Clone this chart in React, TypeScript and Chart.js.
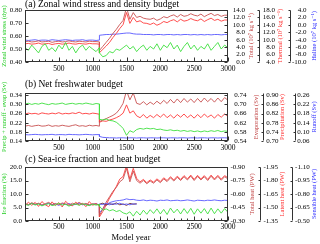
import React, { useEffect, useRef } from "react";
import { Chart, registerables } from "chart.js";

Chart.register(...registerables);

const FAMILY = "'Liberation Serif', 'Times New Roman', 'DejaVu Serif', serif";

// ---------- shared x values ----------
const yearsPre = [0, 50, 100, 150, 200, 250, 300, 350, 400, 450, 500, 550, 600, 650, 700, 750, 800, 850, 900, 950, 1000, 1050, 1100];
const yearsPost = [1100, 1150, 1200, 1250, 1300, 1350, 1400, 1450, 1500, 1550, 1600, 1650, 1700, 1750, 1800, 1850, 1900, 1950, 2000, 2050, 2100, 2150, 2200, 2250, 2300, 2350, 2400, 2450, 2500, 2550, 2600, 2650, 2700, 2750, 2800, 2850, 2900, 2950, 3000];
const ctrlYears = [1100, 1150, 1200, 1250, 1300, 1350, 1400, 1450, 1500, 1550, 1600, 1650];
const xTickValues = [500, 1000, 1500, 2000, 2500, 3000];
const xMinorStep = 100;

// ---------- panel (a) ----------
const aLeftTicks = [0.4, 0.5, 0.6, 0.7, 0.8];
const aTotalTicks = [0, 2, 4, 6, 8, 10, 12, 14];
const aThermalTicks = [4, 6, 8, 10, 12, 14, 16, 18];
const aHalineTicks = [-10, -8, -6, -4, -2, 0, 2, 4];
const windPre = [0.51, 0.49, 0.53, 0.50, 0.47, 0.52, 0.54, 0.49, 0.51, 0.48, 0.53, 0.50, 0.55, 0.49, 0.52, 0.47, 0.51, 0.53, 0.49, 0.52, 0.50, 0.48, 0.51];
const windPost = [0.47, 0.44, 0.45, 0.48, 0.47, 0.50, 0.49, 0.51, 0.53, 0.50, 0.52, 0.48, 0.51, 0.53, 0.49, 0.52, 0.50, 0.54, 0.49, 0.53, 0.51, 0.55, 0.50, 0.53, 0.48, 0.52, 0.55, 0.50, 0.53, 0.49, 0.52, 0.50, 0.54, 0.49, 0.52, 0.55, 0.50, 0.53, 0.51];
const densTotalPre = [5.5, 5.6, 5.4, 5.5, 5.7, 5.4, 5.5, 5.6, 5.3, 5.5, 5.6, 5.4, 5.5, 5.7, 5.5, 5.4, 5.6, 5.5, 5.4, 5.6, 5.5, 5.5, 5.4];
const densTotalPost = [3.1, 4.2, 5.3, 6.4, 7.7, 8.8, 10.1, 11.2, 14.7, 11.5, 13.3, 12.0, 12.3, 11.8, 11.6, 11.5, 11.8, 11.2, 11.6, 12.2, 11.9, 12.4, 12.7, 12.1, 12.8, 12.3, 12.5, 13.0, 12.6, 12.4, 12.9, 12.2, 12.7, 13.1, 12.5, 12.8, 12.3, 12.6, 12.6];
const thermalPre = [8.9, 9.0, 8.8, 8.9, 9.1, 8.8, 8.9, 9.0, 8.7, 8.9, 9.0, 8.8, 8.9, 9.1, 8.9, 8.8, 9.0, 8.9, 8.8, 9.0, 8.9, 8.9, 8.8];
const thermalPost = [6.5, 7.4, 8.3, 9.3, 10.6, 11.7, 13.0, 14.1, 17.3, 14.4, 16.0, 14.8, 15.1, 14.5, 14.4, 14.1, 14.5, 13.9, 14.3, 14.9, 14.6, 15.1, 15.4, 14.8, 15.5, 15.0, 15.2, 15.7, 15.3, 15.1, 15.6, 14.9, 15.4, 15.8, 15.2, 15.5, 15.0, 15.3, 15.3];
const halinePre = [-4.1, -4.2, -4.1, -4.0, -4.2, -4.1, -4.1, -4.2, -4.0, -4.1, -4.2, -4.1, -4.0, -4.1, -4.2, -4.1, -4.1, -4.0, -4.2, -4.1, -4.1, -4.2, -4.1];
const halinePost = [-2.8, -2.7, -2.6, -2.6, -2.5, -2.5, -2.4, -2.3, -2.2, -2.2, -2.4, -2.5, -2.5, -2.6, -2.6, -2.6, -2.7, -2.6, -2.6, -2.7, -2.6, -2.6, -2.7, -2.6, -2.7, -2.6, -2.6, -2.7, -2.6, -2.7, -2.6, -2.7, -2.6, -2.7, -2.6, -2.6, -2.7, -2.6, -2.6];

// ---------- panel (b) ----------
const bLeftTicks = [0.14, 0.18, 0.22, 0.26, 0.30, 0.34];
const bEvapTicks = [0.54, 0.58, 0.62, 0.66, 0.70, 0.74];
const bPrecipTicks = [0.70, 0.74, 0.78, 0.82, 0.86, 0.90];
const bRunoffTicks = [0.06, 0.10, 0.14, 0.18, 0.22, 0.26];
const pfwPre = [0.302, 0.305, 0.300, 0.304, 0.301, 0.306, 0.302, 0.299, 0.304, 0.301, 0.303, 0.306, 0.300, 0.303, 0.305, 0.301, 0.304, 0.302, 0.306, 0.303, 0.300, 0.304, 0.302];
const pfwPost = [0.235, 0.232, 0.236, 0.230, 0.228, 0.222, 0.210, 0.195, 0.165, 0.185, 0.178, 0.190, 0.195, 0.192, 0.196, 0.193, 0.195, 0.190, 0.192, 0.188, 0.186, 0.189, 0.185, 0.187, 0.183, 0.186, 0.182, 0.185, 0.181, 0.184, 0.180, 0.184, 0.181, 0.185, 0.182, 0.186, 0.181, 0.184, 0.182];
const evapPre = [0.605, 0.608, 0.604, 0.607, 0.609, 0.605, 0.606, 0.610, 0.604, 0.607, 0.605, 0.609, 0.606, 0.604, 0.608, 0.611, 0.605, 0.607, 0.604, 0.609, 0.606, 0.608, 0.605];
const evapPost = [0.625, 0.632, 0.638, 0.645, 0.652, 0.662, 0.680, 0.705, 0.760, 0.720, 0.750, 0.705, 0.700, 0.712, 0.698, 0.710, 0.700, 0.714, 0.702, 0.718, 0.704, 0.722, 0.706, 0.724, 0.708, 0.726, 0.710, 0.724, 0.708, 0.726, 0.710, 0.728, 0.712, 0.726, 0.710, 0.728, 0.712, 0.730, 0.718];
const precipPre = [0.818, 0.822, 0.819, 0.821, 0.817, 0.823, 0.820, 0.818, 0.822, 0.819, 0.824, 0.818, 0.821, 0.819, 0.823, 0.820, 0.826, 0.819, 0.821, 0.818, 0.822, 0.820, 0.817];
const precipPost = [0.782, 0.788, 0.786, 0.792, 0.796, 0.802, 0.810, 0.822, 0.858, 0.822, 0.832, 0.810, 0.802, 0.816, 0.800, 0.812, 0.802, 0.816, 0.804, 0.818, 0.802, 0.814, 0.800, 0.816, 0.804, 0.818, 0.802, 0.814, 0.800, 0.816, 0.802, 0.818, 0.804, 0.814, 0.800, 0.816, 0.804, 0.818, 0.808];
const runoffPre = [0.088, 0.087, 0.088, 0.089, 0.088, 0.087, 0.088, 0.088, 0.089, 0.087, 0.088, 0.088, 0.087, 0.089, 0.088, 0.088, 0.087, 0.088, 0.089, 0.088, 0.087, 0.088, 0.088];
const runoffPost = [0.080, 0.076, 0.075, 0.074, 0.074, 0.073, 0.074, 0.074, 0.073, 0.074, 0.074, 0.073, 0.074, 0.074, 0.073, 0.074, 0.074, 0.073, 0.074, 0.074, 0.073, 0.074, 0.074, 0.073, 0.074, 0.074, 0.073, 0.074, 0.074, 0.073, 0.074, 0.074, 0.073, 0.074, 0.074, 0.073, 0.074, 0.074, 0.073];

// ---------- panel (c) ----------
const cLeftTicks = [0, 5, 10, 15, 20];
const cTotalTicks = [-0.9, -0.75, -0.6, -0.45, -0.3];
const cLatentTicks = [-1.95, -1.8, -1.65, -1.5, -1.35];
const cSensibleTicks = [-1.1, -0.95, -0.8, -0.65, -0.5];
const icePre = [6.2, 5.8, 6.5, 5.9, 6.3, 5.6, 6.1, 6.4, 5.7, 6.0, 6.6, 5.9, 6.2, 5.5, 6.1, 6.3, 5.8, 6.4, 6.0, 5.7, 6.2, 5.9, 6.1];
const icePost = [5.5, 4.0, 4.5, 3.8, 4.2, 3.5, 3.9, 3.0, 2.6, 3.4, 1.8, 3.6, 2.2, 4.0, 2.5, 4.2, 2.8, 4.5, 2.6, 4.3, 2.4, 4.8, 3.0, 4.4, 2.6, 4.6, 2.8, 4.7, 2.5, 4.5, 2.9, 4.6, 2.6, 4.8, 2.7, 4.5, 2.9, 4.6, 3.2];
const heatTotalPre = [-0.495, -0.48, -0.504, -0.486, -0.498, -0.477, -0.492, -0.507, -0.483, -0.495, -0.48, -0.501, -0.489, -0.474, -0.498, -0.486, -0.507, -0.483, -0.495, -0.48, -0.492, -0.486, -0.48];
const heatTotalPost = [-0.36, -0.435, -0.51, -0.57, -0.63, -0.675, -0.735, -0.765, -0.885, -0.735, -0.855, -0.75, -0.72, -0.75, -0.714, -0.744, -0.72, -0.756, -0.726, -0.768, -0.738, -0.78, -0.744, -0.786, -0.75, -0.792, -0.756, -0.798, -0.75, -0.795, -0.756, -0.792, -0.75, -0.798, -0.756, -0.795, -0.753, -0.792, -0.768];
const latentPre = [-1.515, -1.56, -1.524, -1.557, -1.512, -1.566, -1.53, -1.509, -1.563, -1.521, -1.554, -1.506, -1.569, -1.533, -1.518, -1.56, -1.527, -1.548, -1.509, -1.566, -1.524, -1.545, -1.518];
const latentPost = [-1.395, -1.455, -1.53, -1.605, -1.665, -1.734, -1.815, -1.845, -1.965, -1.815, -1.935, -1.824, -1.785, -1.812, -1.776, -1.806, -1.782, -1.818, -1.788, -1.83, -1.8, -1.842, -1.806, -1.848, -1.812, -1.854, -1.818, -1.86, -1.812, -1.857, -1.818, -1.854, -1.812, -1.86, -1.818, -1.857, -1.815, -1.854, -1.83];
const sensiblePre = [-0.689, -0.68, -0.695, -0.683, -0.692, -0.677, -0.686, -0.698, -0.68, -0.689, -0.674, -0.692, -0.683, -0.695, -0.677, -0.686, -0.698, -0.68, -0.689, -0.677, -0.686, -0.692, -0.68];
const sensiblePost = [-0.59, -0.635, -0.68, -0.704, -0.716, -0.725, -0.728, -0.734, -0.746, -0.737, -0.74, -0.731, -0.728, -0.734, -0.725, -0.731, -0.728, -0.722, -0.731, -0.728, -0.734, -0.725, -0.728, -0.731, -0.725, -0.728, -0.734, -0.728, -0.722, -0.731, -0.728, -0.725, -0.731, -0.728, -0.734, -0.728, -0.725, -0.731, -0.728];
const ctrlHeatTotal = [-0.486, -0.498, -0.477, -0.492, -0.483, -0.501, -0.48, -0.489, -0.474, -0.495, -0.486, -0.492];
const ctrlSensible = [-0.689, -0.683, -0.695, -0.68, -0.692, -0.686, -0.698, -0.683, -0.689, -0.68, -0.692, -0.686];

// ---------- styles ----------
const GREEN = "#3ee03e";
const GREEN_T = "#22cc22";
const RED = "#ff3a3a";
const RED_T = "#ff2a2a";
const BROWN = "#c85050";
const BROWN_T = "#c04040";
const BLUE = "#5858ff";
const BLUE_T = "#2a2aff";
const DARK = "#6a2020";
const AXIS = "#333333";

function pts(xs: number[], ys: number[]) {
  return xs.map((x, i) => ({ x, y: ys[i] }));
}
function joined(xa: number[], ya: number[], xb: number[], yb: number[]) {
  return pts(xa, ya).concat(pts(xb, yb));
}

type RightAxis = { id: string; min: number; max: number; ticks: number[]; dec: number; title: string; color: string; width: number; edge: number; offset: number; reverse?: boolean };
type Panel = {
  top: number; height: number; padTop: number; titleGap: number; xHeight: number; xPad: number;
  title: string; xTitle?: string; xTitleY?: number;
  left: { min: number; max: number; ticks: number[]; dec: number; title: string };
  right: RightAxis[];
  datasets: { data: { x: number; y: number }[]; axis: string; color: string }[];
};

const PANELS: Panel[] = [
  {
    top: 0, height: 78, padTop: 0, titleGap: 0.5, xHeight: 16, xPad: 2.5,
    title: "(a) Zonal wind stress and density budget",
    left: { min: 0.4, max: 0.8, ticks: aLeftTicks, dec: 2, title: "Zonal wind stress (dyn)" },
    right: [
      { id: "y1", min: 0, max: 14, ticks: aTotalTicks, dec: 1, title: "Total (10⁷ kg s⁻¹)", color: BROWN_T, width: 31, edge: 17, offset: 7.3 },
      { id: "y2", min: 4, max: 18, ticks: aThermalTicks, dec: 1, title: "Thermal (10⁷ kg s⁻¹)", color: RED_T, width: 31, edge: 16, offset: 9.3 },
      { id: "y3", min: -10, max: 4, ticks: aHalineTicks, dec: 1, title: "Haline (10⁷ kg s⁻¹)", color: BLUE_T, width: 30, edge: 16.5, offset: 6 },
    ],
    datasets: [
      { data: joined(yearsPre, windPre, yearsPost, windPost), axis: "y", color: GREEN },
      { data: joined(yearsPre, densTotalPre, yearsPost, densTotalPost), axis: "y1", color: BROWN },
      { data: joined(yearsPre, thermalPre, yearsPost, thermalPost), axis: "y2", color: RED },
      { data: joined(yearsPre, halinePre, yearsPost, halinePost), axis: "y3", color: BLUE },
    ],
  },
  {
    top: 78, height: 76, padTop: 2, titleGap: 3.5, xHeight: 13, xPad: 2.5,
    title: "(b) Net freshwater budget",
    left: { min: 0.14, max: 0.35, ticks: bLeftTicks, dec: 2, title: "Precip + runoff - evap (Sv)" },
    right: [
      { id: "y1", min: 0.54, max: 0.75, ticks: bEvapTicks, dec: 2, title: "Evaporation (Sv)", color: BROWN_T, width: 35, edge: 18.5, offset: 6.3 },
      { id: "y2", min: 0.70, max: 0.91, ticks: bPrecipTicks, dec: 2, title: "Precipitation (Sv)", color: RED_T, width: 32, edge: 15.5, offset: 12.5 },
      { id: "y3", min: 0.06, max: 0.27, ticks: bRunoffTicks, dec: 2, title: "Runoff (Sv)", color: BLUE_T, width: 25, edge: 14.5, offset: 6 },
    ],
    datasets: [
      { data: joined(yearsPre, pfwPre, yearsPost, pfwPost), axis: "y", color: GREEN },
      { data: joined(yearsPre, evapPre, yearsPost, evapPost), axis: "y1", color: BROWN },
      { data: joined(yearsPre, precipPre, yearsPost, precipPost), axis: "y2", color: RED },
      { data: joined(yearsPre, runoffPre, yearsPost, runoffPost), axis: "y3", color: BLUE },
    ],
  },
  {
    top: 154, height: 90, padTop: 0.5, titleGap: 3, xHeight: 23, xPad: 1.5,
    title: "(c) Sea-ice fraction and heat budget", xTitle: "Model year", xTitleY: 83.5,
    left: { min: 0, max: 20, ticks: cLeftTicks, dec: 1, title: "Ice fraction (%)" },
    right: [
      { id: "y1", min: -0.9, max: -0.3, ticks: cTotalTicks, dec: 2, title: "Total heat (PW)", color: BROWN_T, width: 32, edge: 17, offset: 8, reverse: true },
      { id: "y2", min: -1.95, max: -1.35, ticks: cLatentTicks, dec: 2, title: "Latent heat (PW)", color: RED_T, width: 31.7, edge: 18, offset: 9.7, reverse: true },
      { id: "y3", min: -1.1, max: -0.5, ticks: cSensibleTicks, dec: 2, title: "Sensible heat (PW)", color: BLUE_T, width: 28.3, edge: 18, offset: 5.7, reverse: true },
    ],
    datasets: [
      { data: joined(yearsPre, icePre, yearsPost, icePost), axis: "y", color: GREEN },
      { data: pts(ctrlYears, ctrlSensible), axis: "y3", color: BLUE },
      { data: pts(ctrlYears, ctrlHeatTotal), axis: "y1", color: DARK },
      { data: joined(yearsPre, heatTotalPre, yearsPost, heatTotalPost), axis: "y1", color: BROWN },
      { data: joined(yearsPre, latentPre, yearsPost, latentPost), axis: "y2", color: RED },
      { data: joined(yearsPre, sensiblePre, yearsPost, sensiblePost), axis: "y3", color: BLUE },
    ],
  },
];

function makeOverlay(p: Panel) {
  return {
    id: "panelOverlay",
    afterDraw(chart: any) {
      const { ctx, chartArea: a, scales } = chart;
      const L = Math.round(a.left) + 0.5;
      const R = Math.round(a.right) - 0.5;
      const T = Math.round(a.top) + 0.5;
      const B = Math.round(a.bottom) - 0.5;
      ctx.save();
      ctx.strokeStyle = AXIS;
      ctx.lineWidth = 1;
      ctx.strokeRect(L, T, R - L, B - T);
      ctx.beginPath();
      const xs = scales.x;
      for (let v = xs.min; v <= xs.max; v += xMinorStep) {
        const px = Math.round(xs.getPixelForValue(v)) + 0.5;
        const len = xTickValues.includes(v) ? 4 : 2;
        ctx.moveTo(px, B);
        ctx.lineTo(px, B - len);
      }
      for (const v of p.left.ticks) {
        const py = Math.round(scales.y.getPixelForValue(v)) + 0.5;
        ctx.moveTo(L, py);
        ctx.lineTo(L + 3, py);
      }
      p.right.forEach((r, idx) => {
        const s = scales[r.id];
        const base = idx === 0 ? R : Math.round(s.left) + 0.5;
        if (idx > 0) {
          ctx.moveTo(base, T);
          ctx.lineTo(base, B);
        }
        for (const v of r.ticks) {
          const py = Math.round(s.getPixelForValue(v)) + 0.5;
          ctx.moveTo(base, py);
          ctx.lineTo(base - (idx === 0 ? 3 : 2), py);
        }
      });
      ctx.stroke();

      ctx.textBaseline = "middle";
      p.right.forEach((r) => {
        const s = scales[r.id];
        ctx.fillStyle = "#000";
        ctx.font = `7px ${FAMILY}`;
        ctx.textAlign = "right";
        for (const v of r.ticks) {
          ctx.fillText(v.toFixed(r.dec), s.left + r.edge, s.getPixelForValue(v));
        }
        ctx.save();
        ctx.translate(s.right - r.offset, (a.top + a.bottom) / 2);
        ctx.rotate(-Math.PI / 2);
        ctx.textAlign = "center";
        ctx.fillStyle = r.color;
        ctx.font = `6.5px ${FAMILY}`;
        ctx.fillText(r.title, 0, 0);
        ctx.restore();
      });
      if (p.xTitle) {
        ctx.fillStyle = "#000";
        ctx.font = `8.5px ${FAMILY}`;
        ctx.textAlign = "center";
        ctx.fillText(p.xTitle, (a.left + a.right) / 2 + 4.5, p.xTitleY);
      }
      ctx.restore();
    },
  };
}

function buildConfig(p: Panel): any {
  const off = { display: false, drawTicks: false, tickLength: 0 };
  const scales: any = {
    x: {
      type: "linear",
      min: 0,
      max: 3000,
      afterBuildTicks: (s: any) => {
        s.ticks = xTickValues.map((v) => ({ value: v }));
      },
      afterFit: (s: any) => {
        s.height = p.xHeight;
      },
      grid: off,
      border: { display: false },
      ticks: {
        color: "#000",
        font: { family: FAMILY, size: 7.5, lineHeight: 1.2 },
        padding: p.xPad,
        maxRotation: 0,
        minRotation: 0,
        autoSkip: false,
        callback: (v: any) => String(v),
      },
      title: { display: false },
    },
    y: {
      type: "linear",
      position: "left",
      min: p.left.min,
      max: p.left.max,
      afterBuildTicks: (s: any) => {
        s.ticks = p.left.ticks.map((v) => ({ value: v }));
      },
      afterFit: (s: any) => {
        s.width = 25;
      },
      grid: off,
      border: { display: false },
      ticks: {
        color: "#000",
        font: { family: FAMILY, size: 7, lineHeight: 1.2 },
        padding: 3,
        autoSkip: false,
        callback: (v: any) => Number(v).toFixed(p.left.dec),
      },
      title: {
        display: true,
        text: p.left.title,
        color: GREEN_T,
        font: { family: FAMILY, size: 6.5, lineHeight: 1.2 },
        padding: { top: 0.3, bottom: 0 },
      },
    },
  };
  p.right.forEach((r) => {
    scales[r.id] = {
      type: "linear",
      position: "right",
      min: r.min,
      max: r.max,
      reverse: !!r.reverse,
      afterFit: (s: any) => {
        s.width = r.width;
      },
      grid: off,
      border: { display: false },
      ticks: { display: false },
      title: { display: false },
    };
  });
  return {
    type: "line",
    data: {
      datasets: p.datasets.map((d) => ({
        data: d.data,
        yAxisID: d.axis,
        borderColor: d.color,
        backgroundColor: d.color,
        borderWidth: 0.9,
        pointRadius: 0,
        fill: false,
        tension: 0,
      })),
    },
    options: {
      animation: false,
      responsive: false,
      devicePixelRatio: 1,
      events: [],
      layout: { padding: { top: p.padTop, left: 0, right: 0, bottom: 0 } },
      plugins: {
        legend: { display: false },
        tooltip: { enabled: false },
        title: {
          display: true,
          text: p.title,
          align: "start",
          position: "top",
          fullSize: false,
          color: "#000",
          font: { family: FAMILY, size: 9.5, weight: "normal", lineHeight: 1 },
          padding: { top: 0, bottom: p.titleGap },
        },
      },
      scales,
    },
    plugins: [makeOverlay(p)],
  };
}

export default function App() {
  const r0 = useRef<HTMLCanvasElement>(null);
  const r1 = useRef<HTMLCanvasElement>(null);
  const r2 = useRef<HTMLCanvasElement>(null);
  const refs = [r0, r1, r2];

  useEffect(() => {
    const charts = PANELS.map((p, i) => new Chart(refs[i].current as HTMLCanvasElement, buildConfig(p)));
    return () => charts.forEach((c) => c.destroy());
  }, []);

  return (
    <div style={{ position: "absolute", left: 0, top: 0, width: 320, height: 244, background: "#fff", overflow: "hidden" }}>
      {PANELS.map((p, i) => (
        <canvas
          key={i}
          ref={refs[i]}
          width={320}
          height={p.height}
          style={{ position: "absolute", left: 0, top: p.top, width: 320, height: p.height, display: "block" }}
        />
      ))}
    </div>
  );
}
